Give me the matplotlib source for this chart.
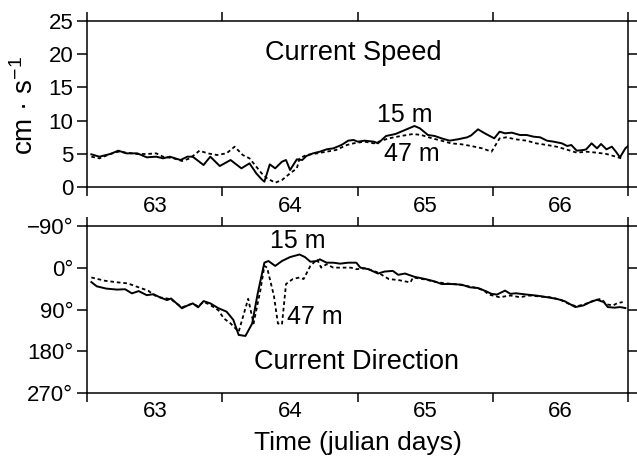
import matplotlib
matplotlib.use("Agg")
import matplotlib.pyplot as plt

plt.rcParams["font.family"] = ["Liberation Sans", "DejaVu Sans"]
plt.rcParams["mathtext.fontset"] = "custom"
plt.rcParams["mathtext.rm"] = "Liberation Sans"
plt.rcParams["mathtext.it"] = "Liberation Sans"

# speed, 15 m (solid)
spd15_t = [63.03, 63.09, 63.17, 63.23, 63.29, 63.37, 63.44, 63.51, 63.56, 63.61,
           63.69, 63.74, 63.78, 63.86, 63.91, 63.98, 64.06, 64.14, 64.20, 64.25,
           64.29, 64.31, 64.35, 64.39, 64.44, 64.47, 64.50, 64.55, 64.59, 64.62,
           64.67, 64.72, 64.77, 64.82, 64.88, 64.93, 64.97, 65.00, 65.05, 65.12,
           65.15, 65.21, 65.28, 65.35, 65.42, 65.46, 65.52, 65.57, 65.62, 65.68,
           65.74, 65.81, 65.84, 65.89, 65.94, 66.01, 66.05, 66.09, 66.14, 66.20,
           66.25, 66.30, 66.35, 66.40, 66.45, 66.51, 66.55, 66.58, 66.62, 66.67,
           66.69, 66.73, 66.77, 66.80, 66.84, 66.88, 66.91, 66.94, 66.98, 67.00]
spd15_v = [4.95, 4.6, 5.0, 5.5, 5.1, 5.1, 4.5, 4.6, 4.35, 4.6,
           4.1, 4.6, 4.6, 3.35, 4.6, 3.2, 4.1, 2.85, 3.6, 2.1,
           1.2, 0.85, 3.45, 2.85, 3.85, 4.1, 2.6, 4.2, 4.1, 4.7,
           5.1, 5.35, 5.7, 5.85, 6.35, 7.0, 7.1, 6.85, 7.0, 6.85,
           6.6, 7.7, 8.0, 8.6, 9.2, 8.85, 7.85, 7.7, 7.35, 7.0,
           7.2, 7.5, 7.8, 8.7, 8.1, 7.35, 8.35, 8.1, 8.2, 7.85,
           7.85, 7.6, 7.5, 7.0, 6.85, 6.6, 6.2, 6.35, 5.5, 5.6,
           5.7, 6.6, 5.85, 6.5, 5.7, 6.1, 5.35, 4.5, 5.85, 6.2]

# speed, 47 m (dashed)
spd47_t = [63.03, 63.09, 63.17, 63.23, 63.29, 63.37, 63.44, 63.51, 63.56, 63.64,
           63.70, 63.76, 63.83, 63.89, 63.96, 64.03, 64.09, 64.15, 64.20, 64.25,
           64.29, 64.33, 64.39, 64.44, 64.47, 64.50, 64.55, 64.57, 64.62, 64.70,
           64.77, 64.84, 64.92, 64.97, 65.05, 65.12, 65.23, 65.32, 65.41, 65.47,
           65.55, 65.62, 65.69, 65.77, 65.84, 65.92, 65.99, 66.05, 66.10, 66.17,
           66.25, 66.32, 66.40, 66.47, 66.54, 66.62, 66.69, 66.77, 66.84, 66.91,
           66.95]
spd47_v = [4.6, 4.35, 5.0, 5.35, 5.2, 5.0, 5.0, 5.1, 4.6, 4.35,
           3.95, 4.35, 5.5, 5.1, 4.85, 5.1, 6.1, 4.85, 4.35, 3.1,
           2.1, 1.35, 0.7, 1.1, 1.6, 2.1, 2.85, 4.35, 4.85, 5.1,
           5.35, 5.6, 6.35, 6.6, 6.85, 6.6, 7.35, 7.7, 8.0, 7.85,
           7.35, 7.0, 6.6, 6.45, 6.2, 5.85, 5.35, 7.35, 7.5, 7.2,
           7.0, 6.6, 6.35, 6.1, 5.7, 5.2, 5.35, 5.2, 5.0, 4.6,
           4.35]

# direction, 15 m (solid)
dir15_t = [63.03, 63.07, 63.14, 63.22, 63.28, 63.33, 63.38, 63.44, 63.49, 63.54,
           63.59, 63.62, 63.70, 63.75, 63.78, 63.82, 63.86, 63.91, 63.97, 64.03,
           64.08, 64.12, 64.17, 64.22, 64.26, 64.31, 64.34, 64.39, 64.44, 64.50,
           64.57, 64.61, 64.65, 64.70, 64.72, 64.77, 64.82, 64.87, 64.93, 64.99,
           65.02, 65.08, 65.15, 65.20, 65.26, 65.30, 65.35, 65.42, 65.50, 65.57,
           65.62, 65.69, 65.77, 65.83, 65.89, 65.95, 65.99, 66.03, 66.09, 66.13,
           66.17, 66.25, 66.32, 66.40, 66.47, 66.53, 66.61, 66.67, 66.72, 66.77,
           66.82, 66.85, 66.90, 66.94, 66.98]
dir15_v = [30.5, 39.7, 44.6, 46.8, 46, 55, 50, 58.8, 56.7, 63.8,
           69.4, 66, 87, 80, 76.5, 85, 71.6, 76.5, 87, 94.3,
           112, 144.7, 146.8, 119.8, 56, -11.3, -14.9, -4.3, -14.9, -23.4,
           -29, -23.4, -13.4, -14.9, -18.5, -11.3, -11.3, -9.2, -11.3, -11.3,
           -0.6, 2.8, 12.1, 7.8, 6.4, 14.9, 12.1, 19.2, 24, 29.2,
           34.7, 34.7, 36.2, 41.9, 43.3, 50.4, 56, 57.5, 49, 56,
           54.7, 57.5, 59.6, 63.2, 66.6, 71.7, 84.5, 80.9, 73.8, 68.7,
           73.8, 84.5, 85.8, 84.5, 86.6]

# direction, 47 m (dashed)
dir47_t = [63.03, 63.13, 63.23, 63.30, 63.38, 63.45, 63.50, 63.54, 63.59, 63.62,
           63.70, 63.75, 63.78, 63.82, 63.86, 63.91, 63.97, 64.01, 64.06, 64.12,
           64.19, 64.23, 64.28, 64.31, 64.33, 64.38, 64.41, 64.44, 64.47, 64.52,
           64.57, 64.60, 64.65, 64.70, 64.73, 64.77, 64.82, 64.89, 64.95, 64.99,
           65.06, 65.15, 65.23, 65.30, 65.39, 65.41, 65.50, 65.57, 65.64, 65.72,
           65.79, 65.86, 65.93, 65.97, 66.05, 66.13, 66.20, 66.27, 66.35, 66.42,
           66.50, 66.57, 66.62, 66.69, 66.75, 66.80, 66.84, 66.89, 66.92, 66.96]
dir47_v = [20.6, 27.7, 31.3, 33.4, 41.9, 49, 59.6, 63.8, 66, 68,
           85, 80, 77, 83, 73, 80, 91.5, 109, 119.8, 137.6,
           66.6, 119.8, 49, -4.3, -0.6, 59.6, 119.8, 122, 34.7, 24,
           20.6, 24, -4.3, -18.5, -0.6, -7.9, -0.6, -0.6, -0.6, 2.8,
           0.6, 10, 24, 26.2, 31.3, 20.6, 25, 30, 33, 35,
           38, 42, 48, 57.5, 63.2, 59.6, 63.2, 59.6, 61.7, 63.2,
           68.7, 78.7, 83, 77.2, 70.2, 66.6, 78.7, 80.9, 76, 73.8]

day_edges = [63, 64, 65, 66, 67]
day_centers = [63.5, 64.5, 65.5, 66.5]
day_labels = ["63", "64", "65", "66"]
spd_ticks = [0, 5, 10, 15, 20, 25]
dir_ticks = [-90, 0, 90, 180, 270]
dir_labels = ["\u221290\u00b0", "0\u00b0", "90\u00b0", "180\u00b0", "270\u00b0"]

fig = plt.figure(figsize=(6.37, 4.57), dpi=100)
ax1 = fig.add_axes([0.137, 0.590, 0.849, 0.365])
ax2 = fig.add_axes([0.137, 0.140, 0.849, 0.365])

dash = (0, (2.0, 1.6))
ax1.plot(spd15_t, spd15_v, color="black", lw=1.4)
ax1.plot(spd47_t, spd47_v, color="black", lw=1.3, linestyle=dash)
ax2.plot(dir15_t, dir15_v, color="black", lw=1.4)
ax2.plot(dir47_t, dir47_v, color="black", lw=1.3, linestyle=dash)

ax1.set_ylim(0, 25)
ax1.set_yticks(spd_ticks)
ax2.set_ylim(270, -90)
ax2.set_yticks(dir_ticks)
ax2.set_yticklabels(dir_labels)

for ax in (ax1, ax2):
    ax.set_xlim(63, 67)
    ax.set_xticks(day_edges)
    ax.set_xticklabels([])
    ax.set_xticks(day_centers, minor=True)
    ax.set_xticklabels(day_labels, minor=True)
    ax.tick_params(axis="x", which="major", direction="out", length=6.5,
                   width=1.1, top=True, bottom=True)
    ax.tick_params(axis="x", which="minor", length=0, pad=6, labelsize=16)
    ax.tick_params(axis="y", direction="out", length=7, width=1.1,
                   left=True, right=True, labelsize=16, pad=3)
    for s in ax.spines.values():
        s.set_linewidth(1.1)

ax1.text(64.97, 19.1, "Current Speed", fontsize=19.5, ha="center", va="baseline")
ax1.text(65.35, 9.8, "15 m", fontsize=18, ha="center", va="baseline")
ax1.text(65.40, 3.9, "47 m", fontsize=18, ha="center", va="baseline")
ax2.text(64.99, 219, "Current Direction", fontsize=19.5, ha="center", va="baseline")
ax2.text(64.56, -42, "15 m", fontsize=18, ha="center", va="baseline")
ax2.text(64.68, 121, "47 m", fontsize=18, ha="center", va="baseline")

ax2.set_xlabel("Time (julian days)", fontsize=19, labelpad=6)
fig.text(0.04, 0.77, "cm \u00b7 s$^{\u22121}$", fontsize=20, rotation=90,
         ha="center", va="center")

fig.savefig("out.png", dpi=100)
